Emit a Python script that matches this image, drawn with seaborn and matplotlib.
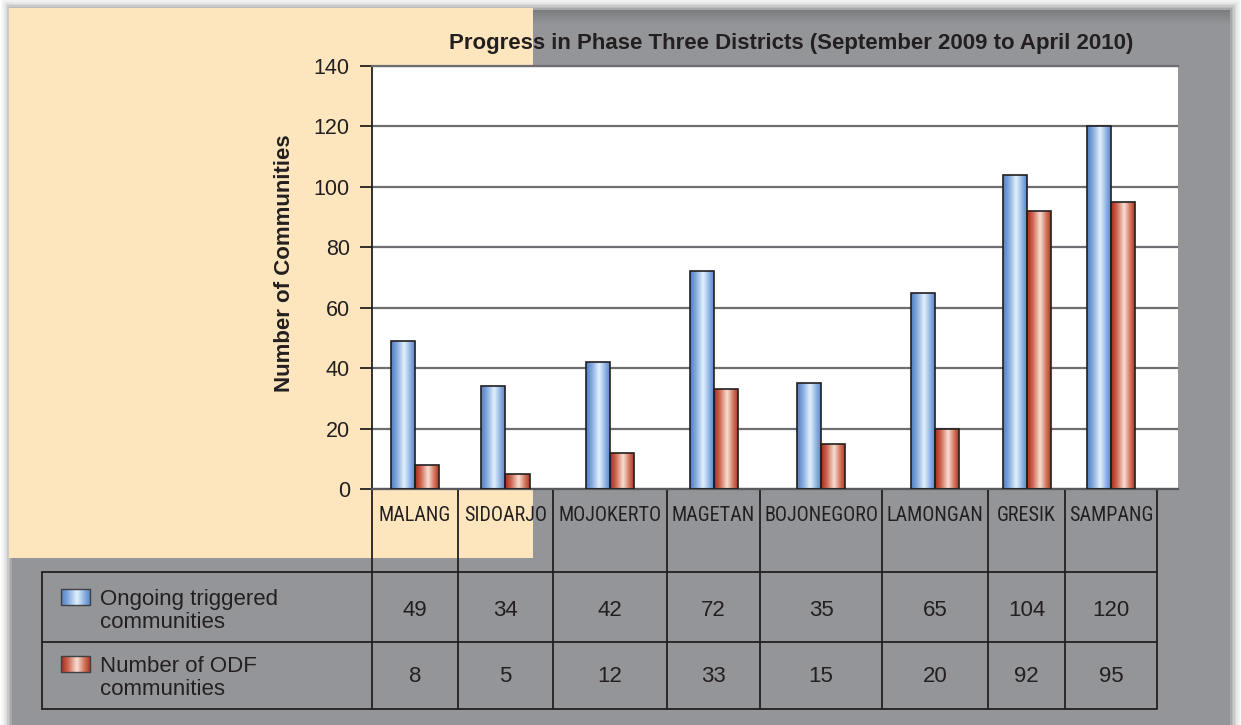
import numpy as np
import pandas as pd
import matplotlib
matplotlib.use("Agg")
import matplotlib.pyplot as plt
import seaborn as sns
from matplotlib.patches import Rectangle
from matplotlib.colors import LinearSegmentedColormap
from matplotlib import font_manager

# ---------------- data ----------------
districts = ["MALANG", "SIDOARJO", "MOJOKERTO", "MAGETAN",
             "BOJONEGORO", "LAMONGAN", "GRESIK", "SAMPANG"]
ongoing = [49, 34, 42, 72, 35, 65, 104, 120]
odf = [8, 5, 12, 33, 15, 20, 92, 95]
series_names = ["Ongoing triggered\ncommunities", "Number of ODF\ncommunities"]
yticks = [0, 20, 40, 60, 80, 100, 120, 140]
title = "Progress in Phase Three Districts (September 2009 to April 2010)"
ylabel = "Number of Communities"

# ---------------- layout (pixels) ----------------
W, H = 1241, 725
plot_left, plot_right, plot_top, plot_bottom = 372, 1178, 66, 489
col_widths = [86, 95, 114, 93, 122, 106, 77, 92]   # data-table column widths
table_left = 42
row_top, row_mid, row_bot = 572, 642, 709
bar_px = 24

TXT = "#231f20"
GRAY = "#939598"
BEIGE = "#fde6bd"

avail = {f.name for f in font_manager.fontManager.ttflist}
FONT = "Liberation Sans" if "Liberation Sans" in avail else "DejaVu Sans"
NARROW = FONT
for cand in ["Roboto Condensed", "Archivo Narrow", "PT Sans Narrow", "Pragati Narrow",
             "Fira Sans Extra Condensed", "Sofia Sans Condensed",
             "Encode Sans Semi Condensed", "Saira Condensed"]:
    if cand in avail:
        NARROW = cand
        break

sns.set_theme(style="white")
plt.rcParams["font.family"] = [FONT, "DejaVu Sans"]

fig = plt.figure(figsize=(W / 100, H / 100), dpi=100, facecolor="white")

# background canvas in pixel coordinates
bg = fig.add_axes([0, 0, 1, 1], zorder=-5)
bg.set_xlim(0, W)
bg.set_ylim(H, 0)
bg.axis("off")

# soft shadow of the gray panel
for i, a in enumerate(np.linspace(0.10, 0.02, 8)):
    d = i * 1.6
    bg.add_patch(Rectangle((12 - d, 10 - d), 1218 + 2 * d, 740, color="black",
                           alpha=a, lw=0, zorder=0))
bg.add_patch(Rectangle((12, 10), 1218, 740, color=GRAY, lw=0, zorder=1))
for i, a in enumerate(np.linspace(0.15, 0.0, 10)):
    bg.add_patch(Rectangle((12, 10 + i * 1.5), 1218, 1.5, color="black",
                           alpha=a, lw=0, zorder=1.5))
# beige block
bg.add_patch(Rectangle((9, 8), 524, 550, color=BEIGE, lw=0, zorder=2))

# table geometry
edges = np.concatenate([[plot_left], plot_left + np.cumsum(col_widths)])
centers = (edges[:-1] + edges[1:]) / 2

lw_t = 1.3
for xe in edges:
    bg.plot([xe, xe], [plot_bottom, row_bot], color=TXT, lw=lw_t, zorder=3,
            solid_capstyle="butt")
bg.plot([table_left, table_left], [row_top, row_bot], color=TXT, lw=lw_t, zorder=3)
for yy in (row_top, row_mid, row_bot):
    bg.plot([table_left, edges[-1]], [yy, yy], color=TXT, lw=lw_t, zorder=3)

# table values
for row_y, vals in ((611, ongoing), (676, odf)):
    for cx, v in zip(centers, vals):
        bg.text(cx, row_y, str(v), ha="center", va="center", fontsize=16,
                color=TXT, zorder=4)

# ---------------- bar chart ----------------
ax = fig.add_axes([plot_left / W, 1 - plot_bottom / H,
                   (plot_right - plot_left) / W, (plot_bottom - plot_top) / H],
                  zorder=1)
ax.set_facecolor("white")

df = pd.DataFrame({
    "x": np.concatenate([centers, centers]),
    "value": ongoing + odf,
    "series": [series_names[0]] * len(districts) + [series_names[1]] * len(districts),
})
min_gap = np.min(np.diff(centers))
sns.barplot(data=df, x="x", y="value", hue="series", native_scale=True,
            width=2 * bar_px / min_gap, palette=["#6f9bd7", "#c0503a"],
            edgecolor=TXT, linewidth=1.2, legend=False, ax=ax, zorder=3,
            errorbar=None)

blue_cmap = LinearSegmentedColormap.from_list(
    "b", [(0, "#4f7fc4"), (0.25, "#86acdf"), (0.55, "#e3f2fc"), (0.8, "#92b6e3"), (1, "#5a88cb")])
red_cmap = LinearSegmentedColormap.from_list(
    "r", [(0, "#a82a18"), (0.25, "#cf6a55"), (0.55, "#f9e0d6"), (0.8, "#d27a63"), (1, "#b03a24")])
grad = np.linspace(0, 1, 64)[None, :]
n = len(districts)
for i, p in enumerate(ax.patches):
    cmap = blue_cmap if i < n else red_cmap
    x0, y0, w, h = p.get_x(), p.get_y(), p.get_width(), p.get_height()
    im = ax.imshow(grad, cmap=cmap, extent=[x0, x0 + w, y0, y0 + h],
                   aspect="auto", interpolation="bicubic", zorder=2.5)
    im.set_clip_path(p)
    p.set_facecolor("none")

ax.set_xlim(plot_left, plot_right)
ax.set_ylim(0, 140)
ax.set_yticks(yticks)
ax.set_yticklabels([str(t) for t in yticks], fontsize=15.5, color=TXT)
ax.set_xticks(centers)
ax.set_xticklabels(districts, fontsize=14.5, color=TXT, family=[NARROW, FONT])
ax.tick_params(axis="x", length=0, pad=12)
ax.tick_params(axis="y", length=9, width=1.3, color=TXT, pad=7, left=True)
ax.set_xlabel("")
ax.yaxis.grid(True, color="#6d6e71", lw=1.6)
ax.set_axisbelow(True)
ax.spines["right"].set_visible(False)
ax.spines["top"].set_color("#6d6e71")
ax.spines["top"].set_linewidth(1.6)
ax.spines["left"].set_color(TXT)
ax.spines["left"].set_linewidth(1.3)
ax.spines["bottom"].set_color("#58595b")
ax.spines["bottom"].set_linewidth(1.6)

ax.set_ylabel(ylabel, fontsize=16, fontweight="bold", color=TXT, va="center")
ax.yaxis.set_label_coords((285 - plot_left) / (plot_right - plot_left),
                          1 - (263 - plot_top) / (plot_bottom - plot_top))
ax.set_title(title, fontsize=16, fontweight="bold", color=TXT, va="center", pad=0,
             x=(791 - plot_left) / (plot_right - plot_left),
             y=1 + (plot_top - 43) / (plot_bottom - plot_top))

# legend swatches in the data table
for (sy, cmap), label in zip(((589, blue_cmap), (656, red_cmap)), series_names):
    bg.imshow(grad, cmap=cmap, extent=[61, 90, sy + 16, sy], aspect="auto",
              interpolation="bicubic", zorder=4)
    bg.add_patch(Rectangle((61, sy), 29, 16, fill=False, ec="#414042", lw=1.0, zorder=5))
    bg.text(100, sy + 22, label, ha="left", va="center", fontsize=16,
            color=TXT, linespacing=1.15, zorder=5)
bg.set_xlim(0, W)
bg.set_ylim(H, 0)

fig.savefig("out.png", dpi=100, facecolor="white")
